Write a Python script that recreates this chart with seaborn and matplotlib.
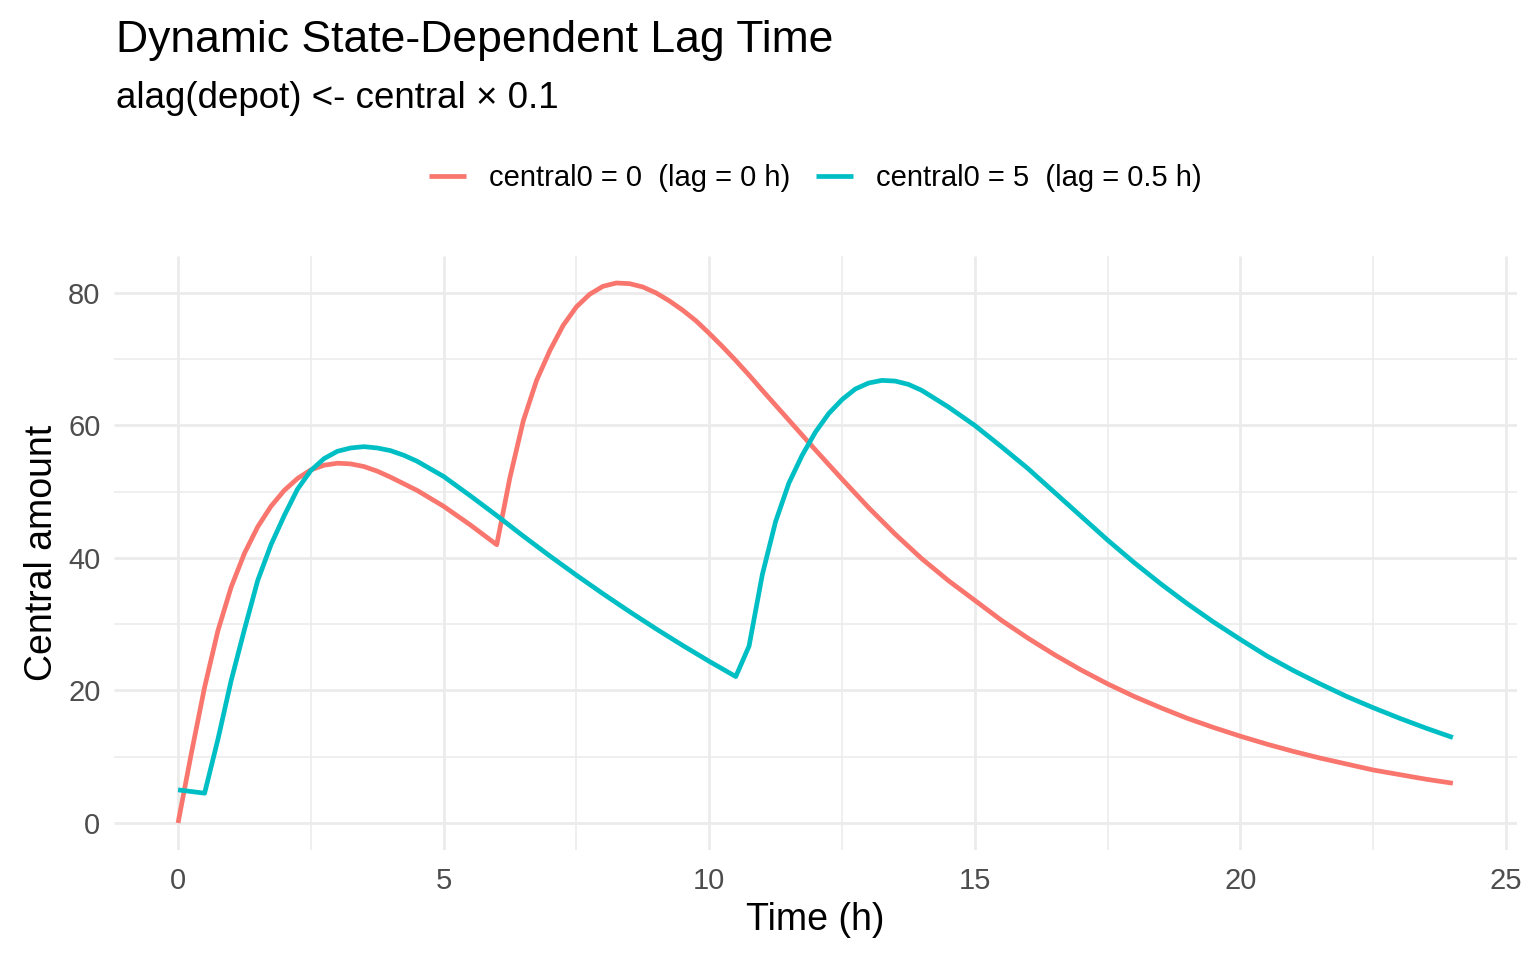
"""
Dynamic state-dependent lag time: central amount over time for two initial states
"""

import numpy as np
import pandas as pd
import matplotlib
matplotlib.use("Agg")
import matplotlib.pyplot as plt
from matplotlib.lines import Line2D
import seaborn as sns

# values
time_a = [0, 0.25, 0.5, 0.75, 1.0, 1.25, 1.5, 1.75, 2.0, 2.25, 2.5, 2.75, 3.0,
          3.25, 3.5, 3.75, 4.0, 4.5, 5.0, 5.5, 6.0, 6.25, 6.5, 6.75, 7.0, 7.25,
          7.5, 7.75, 8.0, 8.25, 8.5, 8.75, 9.0, 9.25, 9.5, 9.75, 10.0, 10.25,
          10.5, 10.75, 11.0, 11.5, 12.0, 12.5, 13.0, 13.5, 14.0, 14.5, 15.0,
          15.5, 16.0, 16.5, 17.0, 17.5, 18.0, 18.5, 19.0, 19.5, 20.0, 20.5,
          21.0, 21.5, 22.0, 22.5, 23.0, 23.5, 24.0]
central_a = [0, 10.5, 20.5, 29.0, 35.6, 40.7, 44.7, 47.8, 50.2, 52.0, 53.3, 54.0,
             54.3, 54.2, 53.8, 53.1, 52.2, 50.2, 47.8, 45.0, 42.0, 52.2, 60.7,
             66.8, 71.3, 75.1, 77.9, 79.8, 81.0, 81.5, 81.4, 80.9, 80.0, 78.8,
             77.4, 75.8, 73.9, 71.9, 69.8, 67.6, 65.3, 60.8, 56.3, 51.9, 47.6,
             43.6, 39.9, 36.6, 33.6, 30.6, 27.9, 25.4, 23.1, 21.0, 19.1, 17.4,
             15.8, 14.4, 13.1, 11.9, 10.8, 9.8, 8.9, 8.0, 7.3, 6.6, 6.0]

time_b = [0, 0.5, 0.75, 1.0, 1.25, 1.5, 1.75, 2.0, 2.25, 2.5, 2.75, 3.0, 3.25,
          3.5, 3.75, 4.0, 4.25, 4.5, 5.0, 5.5, 6.0, 6.5, 7.0, 7.5, 8.0, 8.5,
          9.0, 9.5, 10.0, 10.5, 10.75, 11.0, 11.25, 11.5, 11.75, 12.0, 12.25,
          12.5, 12.75, 13.0, 13.25, 13.5, 13.75, 14.0, 14.5, 15.0, 15.5, 16.0,
          16.5, 17.0, 17.5, 18.0, 18.5, 19.0, 19.5, 20.0, 20.5, 21.0, 21.5,
          22.0, 22.5, 23.0, 23.5, 24.0]
central_b = [5.0, 4.5, 12.6, 21.5, 29.2, 36.6, 42.0, 46.4, 50.4, 53.2, 55.0,
             56.1, 56.6, 56.8, 56.6, 56.2, 55.5, 54.6, 52.3, 49.4, 46.4, 43.3,
             40.3, 37.4, 34.6, 31.9, 29.3, 26.8, 24.4, 22.1, 26.7, 37.5, 45.5,
             51.3, 55.5, 59.0, 61.8, 63.9, 65.5, 66.4, 66.8, 66.7, 66.2, 65.3,
             62.8, 60.0, 56.8, 53.5, 49.9, 46.3, 42.7, 39.3, 36.1, 33.1, 30.3,
             27.7, 25.2, 23.0, 21.0, 19.1, 17.4, 15.8, 14.3, 12.9]

series_labels = ["central0 = 0  (lag = 0 h)", "central0 = 5  (lag = 0.5 h)"]
series_colors = ["#F8766D", "#00BFC4"]
x_ticks = [0, 5, 10, 15, 20, 25]
y_ticks = [0, 20, 40, 60, 80]

df = pd.concat([
    pd.DataFrame({"time": time_a, "central": central_a, "series": series_labels[0]}),
    pd.DataFrame({"time": time_b, "central": central_b, "series": series_labels[1]}),
], ignore_index=True)

sns.set_style("white")
plt.rcParams["font.family"] = ["Liberation Sans", "DejaVu Sans"]
plt.rcParams["text.color"] = "black"
plt.rcParams["axes.labelcolor"] = "black"
plt.rcParams["lines.solid_capstyle"] = "butt"

W, H = 1536, 960
fig = plt.figure(figsize=(W / 100, H / 100), dpi=100)
left, right, top, bottom = 114.3, 1516.6, 256, 850
ax = fig.add_axes([left / W, 1 - bottom / H, (right - left) / W, (bottom - top) / H])

sns.lineplot(data=df, x="time", y="central", hue="series",
             palette=dict(zip(series_labels, series_colors)),
             linewidth=3.4, legend=False, ax=ax)

ax.margins(x=0.05, y=0.05)
ax.set_xticks(x_ticks)
ax.set_yticks(y_ticks)
ax.set_xticks(np.arange(2.5, 25, 5), minor=True)
ax.set_yticks(np.arange(10, 90, 20), minor=True)
ax.grid(which="major", color="#EBEBEB", linewidth=2.0)
ax.grid(which="minor", color="#EBEBEB", linewidth=1.1)
ax.set_axisbelow(True)
for s in ax.spines.values():
    s.set_visible(False)
ax.tick_params(which="both", length=0)
ax.tick_params(axis="x", pad=12, labelsize=21, labelcolor="#4D4D4D")
ax.tick_params(axis="y", pad=10, labelsize=21, labelcolor="#4D4D4D")

ax.set_xlabel("Time (h)", fontsize=27, labelpad=5)
ax.set_ylabel("Central amount", fontsize=27, labelpad=6)

fig.text(116 / W, 1 - 52 / H, "Dynamic State-Dependent Lag Time",
         fontsize=32, ha="left", va="baseline")
fig.text(116 / W, 1 - 108 / H, "alag(depot) <- central \u00d7 0.1",
         fontsize=26.5, ha="left", va="baseline")

handles = [Line2D([0], [0], color=c, linewidth=3.4) for c in series_colors]
fig.legend(handles, series_labels, loc="center",
           bbox_to_anchor=((left + right) / 2 / W, 1 - 178 / H),
           ncol=2, frameon=False, fontsize=21, handlelength=1.27,
           handletextpad=0.8, columnspacing=0.86)

fig.savefig("out.png", dpi=100)
